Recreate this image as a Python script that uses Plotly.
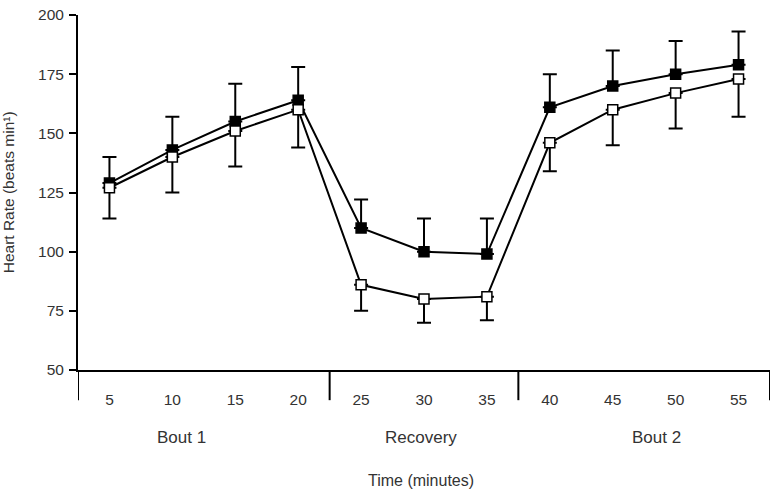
import plotly.graph_objects as go

times = ["5", "10", "15", "20", "25", "30", "35", "40", "45", "50", "55"]
filled_hr = [129, 143, 155, 164, 110, 100, 99, 161, 170, 175, 179]
filled_err_up = [11, 14, 16, 14, 12, 14, 15, 14, 15, 14, 14]
open_hr = [127, 140, 151, 160, 86, 80, 81, 146, 160, 167, 173]
open_err_down = [13, 15, 15, 16, 11, 10, 10, 12, 15, 15, 16]
groups = ["Bout 1", "Recovery", "Bout 2"]
group_pos = [1.15, 4.95, 8.7]
group_bounds = [-0.5, 3.5, 6.5, 10.5]
yticks = [50, 75, 100, 125, 150, 175, 200]

FONT = "Liberation Sans, Arial, sans-serif"
TXT = "#333333"

fig = go.Figure()
fig.add_trace(go.Scatter(
    x=times, y=filled_hr, mode="lines+markers",
    line=dict(color="black", width=2),
    marker=dict(symbol="square", size=10, color="black", line=dict(color="black", width=1.5)),
    error_y=dict(type="data", symmetric=False, array=filled_err_up,
                 arrayminus=[0] * len(times), color="black", thickness=2, width=7),
    showlegend=False,
))
fig.add_trace(go.Scatter(
    x=times, y=open_hr, mode="lines+markers",
    line=dict(color="black", width=2),
    marker=dict(symbol="square", size=10, color="white", line=dict(color="black", width=1.5)),
    error_y=dict(type="data", symmetric=False, array=[0] * len(times),
                 arrayminus=open_err_down, color="black", thickness=2, width=7),
    showlegend=False,
))

for b in group_bounds:
    fig.add_shape(type="line", xref="x", yref="paper", x0=b, x1=b, y0=0, y1=-0.085,
                  line=dict(color="black", width=2))

for g, p in zip(groups, group_pos):
    fig.add_annotation(text=g, x=p, xref="x", y=-0.189, yref="paper", showarrow=False,
                       font=dict(family=FONT, size=17, color=TXT), yanchor="middle")

fig.add_annotation(text="Time (minutes)", x=4.95, xref="x", y=-0.31, yref="paper",
                   showarrow=False, font=dict(family=FONT, size=16, color=TXT), yanchor="middle")
fig.add_annotation(text="Heart Rate (beats min¹)", x=-0.1, xref="paper", y=0.5, yref="paper",
                   showarrow=False, textangle=-90, font=dict(family=FONT, size=15.5, color=TXT),
                   xanchor="center", yanchor="middle")

fig.update_layout(
    width=772, height=492,
    margin=dict(l=78, r=2, t=15, b=122),
    paper_bgcolor="white", plot_bgcolor="white",
    font=dict(family=FONT, size=15, color=TXT),
    xaxis=dict(type="category", range=[-0.5, 10.5], showline=True, linecolor="black",
               linewidth=2, ticks="", showgrid=False, zeroline=False,
               ticklabelstandoff=14, tickfont=dict(family=FONT, size=15.5, color=TXT)),
    yaxis=dict(range=[50, 200], tickvals=yticks, showline=True, linecolor="black",
               linewidth=2, ticks="outside", ticklen=7, tickwidth=2, tickcolor="black",
               ticklabelstandoff=2,
               showgrid=False, zeroline=False, tickfont=dict(family=FONT, size=15.5, color=TXT)),
)

fig.write_html("out.html", config={"displayModeBar": False},
               post_script="document.body.style.margin='0';document.body.style.overflow='hidden';")
